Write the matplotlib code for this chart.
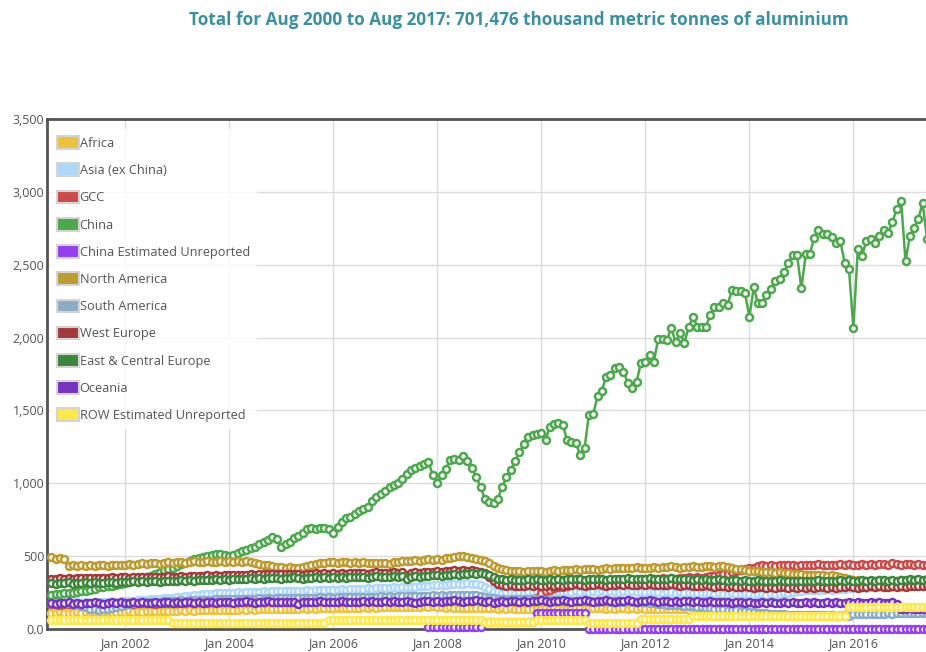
import numpy as np
import pandas as pd
import matplotlib
matplotlib.use('Agg')
import matplotlib.pyplot as plt
from matplotlib.patches import Patch

nan = np.nan

# monthly, Aug 2000 .. Aug 2017 (thousand metric tonnes)
months = pd.date_range('2000-08-01', '2017-08-01', freq='MS')

africa = [112, 110, 114, 111, 113,
          112, 115, 113, 116, 114, 117, 115, 118, 116, 119, 117, 120,
          118, 121, 119, 122, 120, 123, 121, 124, 122, 125, 123, 126,
          124, 127, 125, 128, 126, 129, 127, 130, 128, 131, 129, 132,
          130, 133, 131, 134, 132, 135, 133, 136, 134, 137, 135, 138,
          136, 139, 137, 140, 138, 141, 139, 142, 140, 143, 141, 144,
          142, 145, 143, 146, 144, 147, 145, 148, 146, 149, 147, 150,
          148, 151, 149, 152, 150, 153, 151, 154, 152, 155, 153, 156,
          154, 150, 146, 148, 145, 147, 144, 146, 143, 145, 142, 144,
          141, 143, 140, 142, 139, 141, 138, 140, 137, 139, 136, 138,
          140, 142, 139, 141, 138, 140, 137, 139, 141, 143, 140, 142,
          144, 141, 143, 140, 142, 139, 141, 143, 140, 142, 139, 141,
          138, 140, 137, 139, 136, 138, 135, 137, 134, 136, 133, 135,
          128, 125, 122, 118, 115, 112, 110, 108, 105, 103, 101, 100,
          98, 96, 97, 95, 96, 94, 95, 93, 94, 92, 93, 95,
          94, 96, 95, 93, 94, 92, 93, 91, 92, 94, 93, 140,
          140, 142, 139, 141, 143, 140, 142, 144, 141, 143, 140, 142,
          144, 141, 143, 140, 142, 144, 141, 143]

asia_ex_china = [175, 178, 176, 180, 178,
                 180, 182, 179, 184, 181, 185, 183, 186, 184, 188, 186, 190,
                 192, 195, 193, 198, 196, 200, 203, 205, 208, 210, 212, 215,
                 218, 222, 225, 228, 232, 235, 238, 240, 243, 246, 248, 250,
                 250, 248, 252, 250, 254, 252, 256, 254, 258, 256, 260, 258,
                 260, 258, 262, 260, 264, 262, 266, 264, 268, 266, 270, 268,
                 270, 268, 272, 270, 274, 272, 276, 274, 278, 276, 280, 278,
                 282, 280, 285, 283, 288, 286, 290, 288, 292, 295, 298, 300,
                 302, 300, 305, 308, 306, 310, 312, 315, 312, 308, 300, 290,
                 275, 262, 255, 250, 252, 248, 250, 253, 250, 254, 252, 255,
                 253, 256, 252, 255, 258, 254, 257, 255, 258, 256, 259, 257,
                 258, 255, 259, 256, 260, 257, 254, 258, 255, 259, 256, 252,
                 255, 252, 256, 253, 250, 254, 251, 248, 252, 249, 246, 250,
                 247, 244, 248, 245, 242, 246, 243, 240, 244, 241, 238, 242,
                 240, 236, 240, 238, 235, 240, 238, 242, 246, 250, 254, 258,
                 262, 265, 268, 266, 270, 268, 272, 270, 274, 272, 276, 278,
                 280, 282, 285, 283, 287, 285, 289, 287, 291, 289, 293, 291,
                 294, 292, 296, 294, 298, 296, 300, 298]

gcc = [170, 172, 168, 174, 171,
       173, 170, 175, 172, 176, 173, 170, 175, 172, 177, 174, 176,
       175, 178, 174, 179, 176, 180, 177, 174, 179, 181, 178, 180,
       179, 182, 178, 183, 180, 184, 181, 178, 183, 185, 182, 184,
       183, 186, 182, 187, 184, 188, 185, 182, 187, 189, 186, 188,
       187, 190, 186, 191, 188, 192, 189, 186, 191, 193, 190, 192,
       191, 188, 193, 190, 194, 191, 188, 193, 195, 192, 194, 191,
       193, 190, 195, 192, 196, 193, 190, 195, 197, 194, 196, 193,
       195, 192, 197, 194, 198, 195, 192, 197, 199, 196, 198, 195,
       197, 194, 199, 196, 200, 197, 194, 199, 201, 198, 205, 215,
       250, 262, 270, 278, 285, 290, 296, 302, 308, 312, 318, 322,
       325, 320, 328, 332, 326, 334, 330, 336, 332, 338, 335, 340,
       342, 338, 345, 341, 348, 344, 350, 346, 352, 348, 355, 351,
       356, 352, 358, 362, 366, 370, 375, 380, 388, 395, 402, 410,
       418, 422, 430, 436, 432, 438, 434, 440, 436, 442, 438, 435,
       440, 436, 442, 438, 444, 440, 436, 442, 438, 444, 440, 446,
       442, 438, 444, 440, 446, 442, 448, 444, 440, 452, 446, 442,
       448, 444, 440, 446, 442, 438, 444, 440]

china = [233, 238, 241, 245, 247,
         250, 253, 258, 263, 268, 274, 285, 288, 292, 297, 302, 308,
         315, 322, 330, 336, 346, 356, 366, 378, 390, 405, 410, 418,
         430, 446, 456, 470, 478, 487, 494, 500, 506, 515, 512, 505,
         500, 508, 522, 533, 545, 556, 566, 582, 600, 611, 631, 620,
         563, 582, 600, 622, 640, 662, 685, 693, 688, 690, 692, 686,
         659, 702, 735, 762, 769, 790, 812, 826, 838, 880, 905, 925,
         950, 972, 990, 1002, 1030, 1062, 1091, 1105, 1122, 1135, 1146, 1057,
         1002, 1060, 1098, 1160, 1168, 1162, 1187, 1150, 1105, 1040, 975, 892,
         870, 865, 892, 975, 1040, 1091, 1150, 1215, 1268, 1318, 1330, 1340,
         1345, 1300, 1386, 1405, 1414, 1400, 1297, 1280, 1277, 1194, 1242, 1469,
         1476, 1600, 1633, 1730, 1743, 1791, 1800, 1764, 1689, 1654, 1695, 1826,
         1833, 1881, 1833, 1990, 1990, 1983, 2066, 1970, 2031, 1963, 2073, 2141,
         2073, 2073, 2073, 2155, 2210, 2210, 2238, 2224, 2327, 2320, 2320, 2306,
         2141, 2347, 2238, 2238, 2292, 2333, 2388, 2402, 2450, 2512, 2567, 2567,
         2340, 2574, 2574, 2684, 2738, 2711, 2711, 2690, 2650, 2663, 2512, 2471,
         2066, 2608, 2560, 2663, 2677, 2649, 2697, 2738, 2718, 2793, 2883, 2938,
         2526, 2697, 2752, 2814, 2924, 2677, 2820, 2880]

china_unreported = [nan, nan, nan, nan, nan,
                    nan, nan, nan, nan, nan, nan, nan, nan, nan, nan, nan, nan,
                    nan, nan, nan, nan, nan, nan, nan, nan, nan, nan, nan, nan,
                    nan, nan, nan, nan, nan, nan, nan, nan, nan, nan, nan, nan,
                    nan, nan, nan, nan, nan, nan, nan, nan, nan, nan, nan, nan,
                    nan, nan, nan, nan, nan, nan, nan, nan, nan, nan, nan, nan,
                    nan, nan, nan, nan, nan, nan, nan, nan, nan, nan, nan, nan,
                    nan, nan, nan, nan, nan, nan, nan, nan, nan, nan, 16, 16,
                    16, 16, 16, 16, 16, 16, 16, 16, 16, 16, 16, 50,
                    50, 50, 50, 50, 50, 50, 50, 50, 50, 50, 50, 108,
                    108, 108, 108, 108, 108, 108, 108, 108, 108, 108, 108, 0,
                    0, 0, 0, 0, 0, 0, 0, 0, 0, 0, 0, 0,
                    0, 0, 0, 0, 0, 0, 0, 0, 0, 0, 0, 0,
                    0, 0, 0, 0, 0, 0, 0, 0, 0, 0, 0, 0,
                    0, 0, 0, 0, 0, 0, 0, 0, 0, 0, 0, 0,
                    0, 0, 0, 0, 0, 0, 0, 0, 0, 0, 0, 0,
                    0, 0, 0, 0, 0, 0, 0, 0, 0, 0, 0, 0,
                    0, 0, 0, 0, 0, 0, 0, 0]

north_america = [495, 482, 490, 478, 432,
                 440, 435, 438, 430, 436, 432, 440, 437, 430, 438, 442, 436,
                 440, 445, 438, 446, 450, 447, 452, 455, 449, 456, 460, 454,
                 458, 462, 456, 460, 465, 458, 462, 466, 460, 463, 468, 462,
                 465, 460, 468, 462, 466, 458, 452, 447, 440, 436, 430, 428,
                 425, 420, 426, 418, 422, 428, 432, 440, 446, 452, 455, 458,
                 460, 455, 462, 458, 455, 460, 452, 458, 455, 450, 456, 452,
                 455, 448, 458, 462, 466, 470, 468, 472, 466, 474, 478, 472,
                 480, 476, 488, 490, 495, 500, 498, 492, 488, 482, 476, 468,
                 450, 430, 418, 410, 405, 400, 395, 398, 392, 395, 400, 398,
                 395, 392, 398, 402, 400, 405, 408, 404, 410, 406, 412, 415,
                 410, 408, 415, 418, 412, 420, 416, 422, 418, 420, 424, 420,
                 422, 418, 425, 420, 428, 424, 430, 426, 422, 428, 425, 430,
                 428, 424, 430, 432, 428, 434, 430, 425, 420, 415, 410, 405,
                 400, 398, 395, 390, 392, 388, 385, 390, 387, 382, 380, 378,
                 375, 372, 370, 374, 368, 372, 366, 370, 364, 360, 352, 345,
                 338, 335, 330, 332, 328, 330, 334, 330, 332, 328, 330, 334,
                 332, 330, 334, 330, 332, 335, 333, 336]

south_america = [178, 180, 177, 181, 179,
                 175, 170, 160, 150, 140, 135, 132, 135, 140, 145, 150, 160,
                 170, 175, 178, 180, 182, 184, 185, 187, 188, 190, 191, 192,
                 193, 196, 194, 197, 199, 198, 201, 200, 202, 204, 203, 205,
                 204, 207, 205, 208, 206, 209, 207, 210, 208, 211, 209, 212,
                 210, 213, 211, 214, 212, 215, 213, 216, 214, 217, 215, 218,
                 216, 219, 217, 220, 218, 221, 219, 222, 220, 223, 221, 224,
                 222, 225, 223, 226, 224, 227, 225, 228, 226, 229, 227, 230,
                 228, 231, 229, 232, 230, 233, 231, 234, 232, 230, 226, 222,
                 215, 210, 206, 204, 202, 205, 203, 206, 204, 207, 205, 208,
                 205, 202, 200, 198, 196, 194, 192, 195, 193, 191, 194, 192,
                 190, 188, 191, 189, 187, 190, 188, 186, 189, 187, 185, 188,
                 184, 180, 176, 172, 170, 168, 166, 164, 162, 160, 158, 156,
                 152, 148, 145, 142, 140, 138, 135, 132, 130, 128, 126, 124,
                 120, 116, 112, 110, 108, 105, 103, 101, 100, 98, 97, 96,
                 95, 94, 96, 95, 93, 94, 92, 93, 91, 92, 90, 92,
                 100, 102, 104, 103, 105, 104, 106, 105, 107, 106, 108, 107,
                 108, 107, 109, 108, 110, 109, 111, 110]

west_europe = [345, 342, 348, 344, 350,
               346, 350, 348, 352, 349, 353, 350, 347, 352, 355, 351, 354,
               356, 352, 357, 354, 358, 355, 360, 357, 354, 359, 362, 358,
               360, 364, 359, 365, 361, 366, 363, 368, 364, 369, 366, 370,
               368, 372, 369, 374, 371, 376, 373, 378, 375, 379, 376, 378,
               375, 379, 376, 380, 377, 374, 379, 376, 381, 378, 382, 379,
               381, 378, 383, 380, 384, 381, 386, 383, 380, 385, 388, 385,
               387, 384, 389, 386, 390, 372, 385, 390, 387, 392, 389, 394,
               398, 392, 400, 396, 403, 399, 405, 400, 404, 398, 392, 385,
               360, 330, 310, 300, 296, 300, 295, 298, 294, 300, 296, 302,
               298, 295, 300, 296, 302, 298, 304, 300, 306, 302, 298, 304,
               300, 306, 302, 298, 304, 300, 306, 302, 308, 304, 300, 306,
               302, 306, 303, 299, 304, 301, 306, 302, 298, 303, 300, 296,
               298, 294, 299, 295, 291, 296, 292, 288, 294, 290, 286, 292,
               288, 284, 290, 286, 282, 288, 284, 290, 286, 282, 288, 284,
               286, 282, 288, 284, 290, 286, 282, 288, 284, 290, 286, 292,
               288, 284, 290, 286, 292, 288, 294, 290, 286, 292, 288, 294,
               290, 296, 292, 298, 294, 300, 296, 302]

east_central_europe = [316, 312, 318, 314, 320,
                       312, 318, 315, 320, 316, 322, 318, 314, 320, 324, 318, 322,
                       325, 320, 326, 322, 328, 324, 330, 326, 322, 328, 332, 326,
                       330, 334, 328, 335, 330, 337, 333, 339, 335, 340, 336, 342,
                       338, 344, 340, 346, 342, 348, 344, 350, 346, 352, 348, 350,
                       346, 352, 348, 354, 350, 345, 352, 348, 354, 350, 356, 352,
                       354, 350, 356, 352, 358, 354, 360, 356, 352, 358, 362, 358,
                       360, 356, 362, 358, 364, 345, 358, 364, 360, 366, 362, 368,
                       372, 366, 374, 370, 378, 374, 380, 376, 382, 378, 384, 380,
                       370, 355, 345, 340, 336, 340, 335, 338, 334, 340, 336, 342,
                       338, 335, 340, 336, 342, 338, 344, 340, 346, 342, 338, 344,
                       340, 346, 342, 338, 344, 340, 346, 342, 348, 344, 340, 346,
                       342, 348, 344, 340, 346, 342, 348, 344, 340, 346, 342, 336,
                       340, 336, 342, 338, 334, 340, 336, 332, 338, 334, 330, 336,
                       332, 328, 334, 330, 326, 332, 328, 334, 330, 326, 332, 328,
                       330, 326, 332, 328, 334, 330, 326, 332, 328, 334, 330, 336,
                       332, 328, 334, 330, 336, 332, 338, 334, 330, 336, 332, 338,
                       334, 340, 336, 342, 338, 344, 340, 346]

oceania = [178, 175, 180, 176, 182,
           172, 178, 175, 180, 176, 182, 178, 174, 180, 183, 179, 182,
           180, 176, 183, 179, 185, 181, 178, 184, 180, 186, 182, 179,
           183, 180, 186, 182, 178, 185, 181, 187, 183, 180, 186, 182,
           185, 181, 187, 183, 189, 185, 181, 187, 184, 190, 186, 182,
           186, 182, 188, 184, 175, 186, 182, 188, 184, 190, 186, 183,
           188, 184, 190, 186, 182, 188, 184, 190, 186, 192, 188, 184,
           190, 186, 192, 188, 184, 190, 186, 180, 188, 194, 190, 186,
           192, 188, 194, 190, 196, 192, 188, 194, 190, 196, 192, 188,
           194, 180, 186, 192, 188, 194, 190, 186, 192, 188, 194, 190,
           196, 192, 188, 194, 190, 196, 192, 188, 194, 190, 196, 192,
           188, 194, 190, 196, 192, 188, 194, 190, 196, 192, 188, 194,
           190, 196, 192, 188, 194, 190, 186, 192, 188, 194, 190, 186,
           192, 188, 184, 190, 186, 182, 188, 184, 180, 186, 182, 178,
           184, 180, 176, 182, 178, 184, 180, 176, 182, 178, 184, 180,
           176, 182, 178, 184, 180, 176, 182, 178, 184, 180, 176, 182,
           178, 184, 180, 176, 182, 178, 184, 180, 176, 182, 175, 140,
           138, 142, 136, 140, 138, 142, 136, 140]

row_unreported = [62, 62, 62, 62, 62,
                  62, 62, 62, 62, 62, 62, 62, 62, 62, 62, 62, 62,
                  62, 62, 62, 62, 62, 62, 62, 62, 62, 62, 62, 38,
                  38, 38, 38, 38, 38, 38, 38, 38, 38, 38, 38, 38,
                  38, 38, 38, 38, 38, 38, 38, 38, 38, 38, 38, 38,
                  38, 38, 38, 38, 38, 38, 38, 38, 38, 38, 38, 60,
                  60, 60, 60, 60, 60, 60, 60, 60, 60, 60, 60, 60,
                  60, 60, 60, 60, 60, 60, 60, 60, 60, 60, 60, 60,
                  60, 60, 60, 60, 60, 60, 60, 60, 60, 60, 60, 50,
                  50, 50, 50, 50, 50, 50, 50, 50, 50, 50, 50, 64,
                  64, 64, 64, 64, 64, 64, 64, 64, 64, 64, 64, 43,
                  43, 43, 43, 43, 43, 43, 43, 43, 43, 43, 43, 66,
                  66, 66, 66, 66, 66, 66, 66, 66, 66, 66, 66, 89,
                  89, 89, 89, 89, 89, 89, 89, 89, 89, 89, 89, 89,
                  89, 89, 89, 89, 89, 89, 89, 89, 89, 89, 89, 89,
                  89, 89, 89, 89, 89, 89, 89, 89, 89, 89, 89, 148,
                  148, 148, 148, 148, 148, 148, 148, 148, 148, 148, 148, 148,
                  148, 148, 148, 148, 148, 148, 148, 148]

names = ['Africa', 'Asia (ex China)', 'GCC', 'China', 'China Estimated Unreported',
         'North America', 'South America', 'West Europe', 'East & Central Europe',
         'Oceania', 'ROW Estimated Unreported']
series = [africa, asia_ex_china, gcc, china, china_unreported, north_america,
          south_america, west_europe, east_central_europe, oceania, row_unreported]
colors = ['#edc240', '#afd8f8', '#cb4b4b', '#4da74d', '#9440ed', '#bd9b33',
          '#8cacc6', '#a23c3c', '#3d853d', '#7633bd', '#ffe84c']

yticks = [0, 500, 1000, 1500, 2000, 2500, 3000, 3500]
ytick_labels = ['0.0', '500', '1,000', '1,500', '2,000', '2,500', '3,000', '3,500']
xtick_years = [2002, 2004, 2006, 2008, 2010, 2012, 2014, 2016]

title = 'Total for Aug 2000 to Aug 2017: 701,476 thousand metric tonnes of aluminium'

plt.rcParams['font.family'] = ['Open Sans', 'DejaVu Sans']
text_grey = '#545454'

fig = plt.figure(figsize=(9.26, 6.52), dpi=100)
ax = fig.add_axes([47 / 926, 23 / 652, 0.9645, 510 / 652])

for i, (name, vals, col) in enumerate(zip(names, series, colors)):
    ax.plot(months, vals, color=col, lw=1.8, marker='o', ms=5.0,
            mfc='white', mec=col, mew=1.8, zorder=3 + i, clip_on=False)

ax.set_xlim(pd.Timestamp('2000-07-02'), pd.Timestamp('2017-09-01'))
ax.set_ylim(0, 3500)
ax.set_yticks(yticks, ytick_labels)
ax.set_xticks([pd.Timestamp(f'{y}-01-01') for y in xtick_years],
              [f'Jan {y}' for y in xtick_years])
ax.tick_params(length=0, labelsize=9, labelcolor=text_grey)
ax.tick_params(axis='y', pad=2)
ax.tick_params(axis='x', pad=6)
ax.grid(True, color='#dcdcdc', lw=1)
ax.set_axisbelow(True)
for side in ['left', 'top', 'bottom']:
    ax.spines[side].set_color(text_grey)
    ax.spines[side].set_linewidth(2)
ax.spines['right'].set_visible(False)

handles = [Patch(facecolor=c, edgecolor='#d4d4d4', lw=1.5) for c in colors]
leg = ax.legend(handles, names, loc='upper left', bbox_to_anchor=(0.0035, 0.98),
                borderaxespad=0, borderpad=0.55, fontsize=9.2, labelcolor=text_grey,
                handlelength=1.7, handleheight=1.15, handletextpad=0.05,
                labelspacing=1.06, frameon=True, fancybox=False)
leg.get_frame().set_facecolor('white')
leg.get_frame().set_alpha(0.85)
leg.get_frame().set_edgecolor('none')
leg.set_zorder(20)

fig.text(519 / 926, 1 - 20 / 652, title, ha='center', va='center',
         color='#3b8fa0', fontsize=12.3, fontweight='bold')

fig.savefig('out.png', dpi=100)
